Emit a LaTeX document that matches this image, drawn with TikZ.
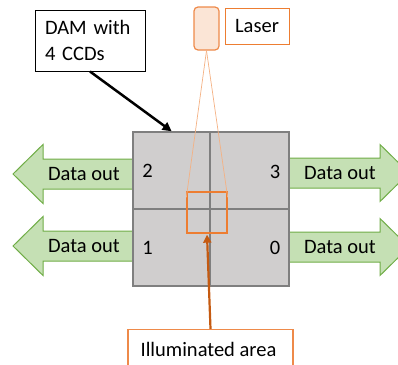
\documentclass[tikz,border=0pt]{standalone}
\usepackage{fontspec}
\setmainfont{Carlito}
\usetikzlibrary{arrows.meta,calc}
\definecolor{gfill}{HTML}{C5E0B4}
\definecolor{gdraw}{HTML}{70AD47}
\definecolor{sqfill}{HTML}{D0CECE}
\definecolor{sqdraw}{HTML}{7F7F7F}
\definecolor{orfill}{HTML}{FBE5D6}
\definecolor{orlight}{HTML}{F4B183}
\definecolor{ormid}{HTML}{EE8A4A}
\definecolor{orange1}{HTML}{ED7D31}
\definecolor{ordark}{HTML}{C55A11}
\begin{document}
\begin{tikzpicture}[x=1pt,y=-1pt,
  every node/.style={font=\fontsize{20.5pt}{26pt}\selectfont, inner sep=0pt},
  dataarrow/.style={fill=gfill, draw=gdraw, line width=1pt, line join=miter},
  lbl/.style={text=black},
  box/.style={draw=black, fill=white, line width=1pt}]
\useasboundingbox (0,0) rectangle (398,364);

% green arrows (left)
\draw[dataarrow] (133,159) -- (43,159) -- (43,144.5) -- (13,174) -- (43,203.5) -- (43,189) -- (133,189) -- cycle;
\draw[dataarrow] (133,231) -- (43,231) -- (43,216.5) -- (13,246) -- (43,275.5) -- (43,261) -- (133,261) -- cycle;
% green arrows (right)
\draw[dataarrow] (289,158) -- (380,158) -- (380,144.5) -- (409,173) -- (380,201.5) -- (380,188) -- (289,188) -- cycle;
\draw[dataarrow] (289,232) -- (380,232) -- (380,218.5) -- (409,247) -- (380,275.5) -- (380,262) -- (289,262) -- cycle;
\node[lbl] (d2) at (84,174) {Data out};
\node[lbl] (d1) at (84,246) {Data out};
\node[lbl] (d3) at (340,173) {Data out};
\node[lbl] (d0) at (340,247) {Data out};

% detector square
\node[draw=sqdraw, fill=sqfill, line width=1.5pt, minimum width=156pt, minimum height=154pt] (sq) at (211,209) {};
\draw[sqdraw, line width=1.2pt] (sq.west |- 0,209) -- (sq.east |- 0,209);
\draw[sqdraw, line width=1.2pt] (sq.north -| 210,0) -- (sq.south -| 210,0);
\node (n2) at (147.5,171) {2};
\node (n1) at (147.5,248) {1};
\node (n3) at (275,172) {3};
\node (n0) at (275,248) {0};

% illuminated area rectangle
\node[draw=orange1, line width=1.3pt, minimum width=40pt, minimum height=41pt] (ill) at (207,212.5) {};

% laser
\node[draw=ormid, fill=orfill, line width=1.2pt, rounded corners=4pt, minimum width=25pt, minimum height=43pt] (laser) at (206.5,28.5) {};
\node[draw=orange1, fill=white, line width=1pt, minimum width=64pt, minimum height=36pt] (laserlbl) at (257,26) {Laser};
\coordinate (bl) at ($(ill.north west)+(0,6)$);
\coordinate (br) at ($(ill.north east)+(0,6)$);
\draw[orlight, line width=0.7pt] (laser.south) -- (bl);
\draw[orlight, line width=0.7pt] (laser.south) -- (br);

% DAM label
\node[box, minimum width=110pt, minimum height=61pt, text width=90pt, align=left] (dam) at (90,40.5) {DAM with\\4 CCDs};
\draw[black, line width=2.5pt, -{Triangle[length=9pt,width=9pt]}] (dam.south) -- ($(sq.north west)!0.25!(sq.north east)$);

% illuminated area label
\node[draw=ormid, fill=white, line width=1.2pt, minimum width=165pt, minimum height=44pt] (illlbl) at (210.5,351.5) {};
\node (illtxt) at (208.5,349) {Illuminated area};
\draw[ordark, line width=2.2pt, -{Triangle[length=8pt,width=8pt]}] (illlbl.north) -- ($(ill.south)+(0,1)$);
\end{tikzpicture}
\end{document}
